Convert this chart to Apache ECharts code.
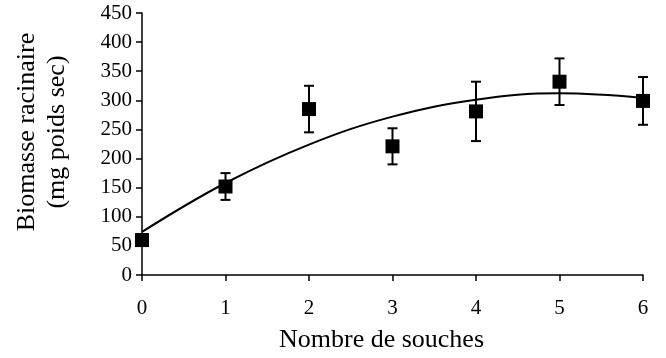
<!DOCTYPE html>
<html>
<head>
<meta charset="utf-8">
<script src="https://cdn.jsdelivr.net/npm/echarts@6/dist/echarts.min.js"></script>
<style>
  html, body { margin: 0; padding: 0; background: #fff; }
  #chart { width: 666px; height: 358px; }
</style>
</head>
<body>
<div id="chart"></div>
<script>
// nombre de souches
let souches = [0, 1, 2, 3, 4, 5, 6];
// biomasse moyenne (mg) et erreur
let biomasse = [60, 152, 285, 221, 281, 332, 299];
let erreur = [10, 23, 40, 31, 51, 40, 41];
// courbe d'ajustement
let courbeX = [0, 1, 2, 3, 4, 5, 6];
let courbeY = [74, 158, 224, 272, 301, 312, 304];

let font = "'Liberation Serif', 'Times New Roman', serif";

let points = souches.map(function (x, i) { return [x, biomasse[i]]; });
let barres = souches.map(function (x, i) { return [x, biomasse[i] - erreur[i], biomasse[i] + erreur[i]]; });
let courbe = courbeX.map(function (x, i) { return [x, courbeY[i]]; });

let option = {
  animation: false,
  backgroundColor: "#fff",
  grid: {
    left: 142,
    right: 23,
    top: 13,
    bottom: 83
  },
  xAxis: {
    type: "value",
    min: 0,
    max: 6,
    interval: 1,
    name: "Nombre de souches",
    nameLocation: "middle",
    nameGap: 52,
    nameTextStyle: {
      fontFamily: font,
      fontSize: 26,
      color: "#000",
      padding: [0, 22, 0, 0]
    },
    axisLine: { lineStyle: { color: "#000", width: 1.5 } },
    axisTick: { show: true, length: 6, lineStyle: { color: "#000", width: 1.5 } },
    axisLabel: { margin: 23, fontFamily: font, fontSize: 21, color: "#000" },
    splitLine: { show: false }
  },
  yAxis: {
    type: "value",
    min: 0,
    max: 450,
    interval: 50,
    name: "Biomasse racinaire\n(mg poids sec)",
    nameLocation: "middle",
    nameGap: 70,
    nameRotate: 90,
    nameTextStyle: {
      fontFamily: font,
      fontSize: 26,
      lineHeight: 30,
      color: "#000",
      align: "center",
      padding: [0, 0, 0, 24]
    },
    axisLine: { show: true, lineStyle: { color: "#000", width: 1.5 } },
    axisTick: { show: true, length: 6, lineStyle: { color: "#000", width: 1.5 } },
    axisLabel: { margin: 10, fontFamily: font, fontSize: 21, color: "#000" },
    splitLine: { show: false }
  },
  series: [
    {
      name: "courbe",
      type: "line",
      data: courbe,
      smooth: 0.4,
      showSymbol: false,
      lineStyle: { color: "#000", width: 2 },
      z: 2
    },
    {
      name: "erreur",
      type: "custom",
      data: barres,
      renderItem: function (params, api) {
        let x = api.value(0);
        let bas = api.coord([x, api.value(1)]);
        let haut = api.coord([x, api.value(2)]);
        let w = 5;
        let style = { stroke: "#000", lineWidth: 2 };
        return {
          type: "group",
          children: [
            { type: "line", shape: { x1: bas[0], y1: bas[1], x2: haut[0], y2: haut[1] }, style: style },
            { type: "line", shape: { x1: haut[0] - w, y1: haut[1], x2: haut[0] + w, y2: haut[1] }, style: style },
            { type: "line", shape: { x1: bas[0] - w, y1: bas[1], x2: bas[0] + w, y2: bas[1] }, style: style }
          ]
        };
      },
      encode: { x: 0, y: [1, 2] },
      z: 3
    },
    {
      name: "biomasse",
      type: "scatter",
      data: points,
      symbol: "rect",
      symbolSize: 14,
      itemStyle: { color: "#000", opacity: 1 },
      z: 4
    }
  ]
};

let myChart = echarts.init(document.getElementById("chart"));
myChart.setOption(option);
</script>
</body>
</html>
